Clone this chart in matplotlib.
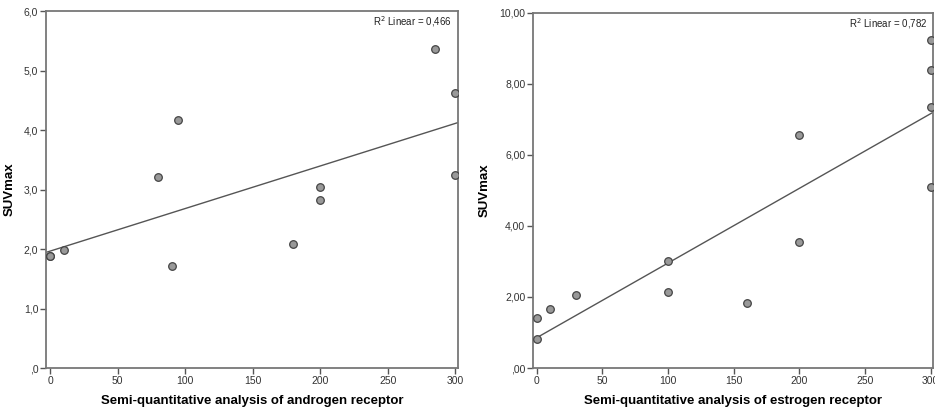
import matplotlib
matplotlib.use('Agg')
import matplotlib.pyplot as plt
import numpy as np

plt.rcParams['font.family'] = ['Liberation Sans', 'DejaVu Sans']

# androgen receptor panel
ar_x = [0, 0, 10, 80, 90, 95, 180, 200, 200, 285, 300, 300]
ar_y = [1.88, 1.89, 1.99, 3.21, 1.72, 4.17, 2.08, 3.05, 2.82, 5.36, 4.62, 3.24]
ar_r2 = '0,466'
ar_yticks = [0, 1, 2, 3, 4, 5, 6]
ar_ylabels = [',0', '1,0', '2,0', '3,0', '4,0', '5,0', '6,0']

# estrogen receptor panel
er_x = [0, 0, 10, 30, 100, 100, 160, 200, 200, 300, 300, 300, 300]
er_y = [1.42, 0.83, 1.66, 2.06, 3.00, 2.15, 1.82, 3.55, 6.56, 9.24, 8.39, 7.36, 5.11]
er_r2 = '0,782'
er_yticks = [0, 2, 4, 6, 8, 10]
er_ylabels = [',00', '2,00', '4,00', '6,00', '8,00', '10,00']

xticks = [0, 50, 100, 150, 200, 250, 300]

fig = plt.figure(figsize=(9.35, 4.11), dpi=100)
ax1 = fig.add_axes([0.0492, 0.1046, 0.4406, 0.8684])
ax2 = fig.add_axes([0.5700, 0.1046, 0.4280, 0.8640])

def panel(ax, x, y, r2, yticks, ylabels, ymax, xlabel):
    x = np.array(x, dtype=float)
    y = np.array(y, dtype=float)
    b, a = np.polyfit(x, y, 1)
    xl = np.array([-3, 302])
    ax.plot(xl, a + b * xl, color='#555555', lw=1.0, zorder=2)
    ax.scatter(x, y, s=30, facecolor='#999999', edgecolor='#444444',
               linewidth=0.9, zorder=3)
    ax.set_xlim(-3, 302)
    ax.set_ylim(0, ymax)
    ax.set_xticks(xticks)
    ax.set_yticks(yticks)
    ax.set_yticklabels(ylabels)
    for s in ax.spines.values():
        s.set_color('#777777')
        s.set_linewidth(1.3)
    ax.tick_params(axis='both', direction='out', length=4, width=1,
                   color='#555555', labelsize=7.5, labelcolor='#333333', pad=1.5)
    ax.set_xlabel(xlabel, fontsize=9.5, fontweight='bold', labelpad=7)
    ax.set_ylabel('SUVmax', fontsize=9.5, fontweight='bold', labelpad=6)
    ax.text(0.985, 0.99, 'R$^2$ Linear = ' + r2, transform=ax.transAxes,
            ha='right', va='top', fontsize=7, color='#222222')

panel(ax1, ar_x, ar_y, ar_r2, ar_yticks, ar_ylabels, 6,
      'Semi-quantitative analysis of androgen receptor')
panel(ax2, er_x, er_y, er_r2, er_yticks, er_ylabels, 10,
      'Semi-quantitative analysis of estrogen receptor')

fig.savefig('out.png', dpi=100)
